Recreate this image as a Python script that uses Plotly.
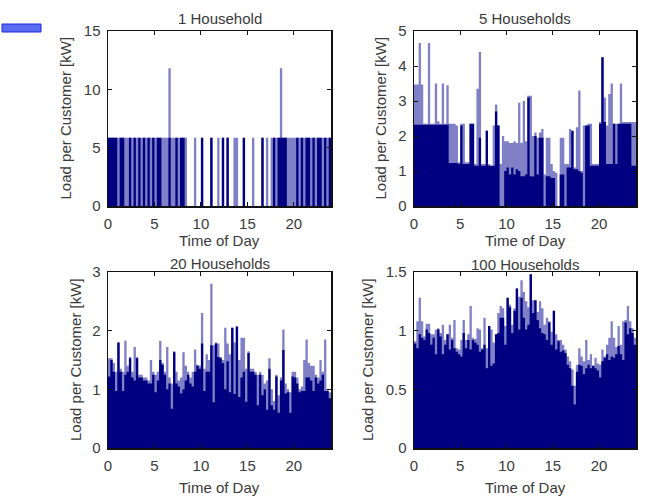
import plotly.graph_objects as go

W, H = 645, 499

# time axis: 15-minute bins over a day (97 edges)
time_of_day = [i * 0.25 for i in range(97)]

panel_titles = ["1 Household", "5 Households", "20 Households", "100 Households"]
x_ticks = [0, 5, 10, 15, 20]
y_ticks = [[0, 5, 10, 15], [0, 1, 2, 3, 4, 5], [0, 1, 2, 3], [0, 0.5, 1, 1.5]]
y_tick_text = [["0", "5", "10", "15"], ["0", "1", "2", "3", "4", "5"],
               ["0", "1", "2", "3"], ["0", "0.5", "1", "1.5"]]
y_max = [15, 5, 3, 1.5]

# 1 household: load sustained over the whole bin (dark) and peak within bin (light)
base_1 = [5.85, 5.85, 5.85, 5.85, 0, 5.85, 5.85, 0, 0, 5.85, 0, 5.85,
          0, 5.85, 0, 5.85, 0, 5.85, 0, 5.85, 0, 5.85, 5.85, 0,
          0, 0, 5.85, 0, 0, 5.85, 0, 5.85, 5.85, 0, 0, 0,
          0, 0, 0, 0, 5.85, 0, 0, 0, 5.85, 0, 0, 0,
          0, 5.85, 0, 5.85, 0, 0, 0, 0, 0, 0, 5.85, 0,
          0, 0, 0, 0, 0, 0, 5.85, 0, 0, 0, 0, 5.85,
          0, 5.85, 5.85, 5.85, 5.85, 0, 0, 0, 0, 5.85, 0, 5.85,
          0, 5.85, 5.85, 0, 5.85, 0, 5.85, 5.85, 0, 5.85, 0, 5.85]
peak_1 = [5.85, 5.85, 5.85, 5.85, 5.85, 5.85, 5.85, 5.85, 5.85, 5.85, 5.85, 5.85,
          5.85, 5.85, 5.85, 5.85, 5.85, 5.85, 5.85, 5.85, 5.85, 5.85, 5.85, 5.85,
          5.85, 5.85, 11.8, 5.85, 5.85, 5.85, 5.85, 5.85, 5.85, 5.85, 0, 0,
          0, 5.85, 0, 0, 5.85, 0, 0, 0, 5.85, 0, 0, 5.85,
          0, 5.85, 0, 5.85, 0, 0, 5.85, 5.85, 0, 0, 5.85, 0,
          0, 0, 5.85, 0, 0, 0, 5.85, 0, 5.85, 0, 5.85, 5.85,
          5.85, 5.85, 11.8, 5.85, 5.85, 5.85, 5.85, 5.85, 5.85, 5.85, 5.85, 5.85,
          5.85, 5.85, 5.85, 5.85, 5.85, 5.85, 5.85, 5.85, 5.85, 5.85, 5.85, 5.85]

# 5 households
base_5 = [2.32, 2.32, 2.32, 2.32, 2.32, 2.32, 2.32, 2.32, 2.32, 2.32, 2.32, 2.32,
          2.32, 2.32, 2.32, 1.23, 1.23, 1.23, 1.23, 1.2, 2.3, 1.2, 1.2, 1.2,
          2.35, 2.35, 1.15, 1.15, 1.95, 1.15, 1.15, 2.15, 1.15, 1.15, 1.15, 2.7,
          2.3, 0, 0, 1.0, 1.1, 0.9, 1.1, 0.9, 1.05, 1.0, 0.85, 0.85,
          0.9, 3.1, 0.85, 0.84, 2.0, 0.9, 1.95, 1.95, 0, 0.85, 0.85, 0.8,
          0.8, 0, 0, 0.9, 0.9, 0, 1.1, 1.1, 2.15, 1.05, 1.05, 1.0,
          0.95, 0, 2.3, 2.3, 1.15, 1.15, 1.15, 1.15, 2.35, 4.25, 2.4, 1.2,
          1.2, 1.2, 2.35, 1.2, 2.35, 2.35, 2.35, 2.35, 2.35, 2.35, 1.15, 1.15]
peak_5 = [3.47, 3.47, 4.66, 3.47, 2.35, 2.35, 4.66, 2.35, 2.35, 3.5, 2.42, 2.35,
          3.5, 2.35, 3.45, 2.35, 2.35, 2.35, 2.3, 1.25, 2.35, 2.35, 1.25, 1.25,
          2.35, 2.35, 1.2, 3.35, 4.4, 1.2, 1.2, 2.15, 1.2, 1.15, 2.3, 2.9,
          2.3, 1.2, 2.0, 1.85, 1.85, 1.8, 1.8, 1.85, 1.8, 2.95, 1.8, 3.0,
          1.85, 3.15, 3.15, 2.0, 2.1, 1.95, 2.1, 2.2, 0.9, 1.95, 1.95, 1.2,
          1.0, 0.95, 0, 1.95, 1.95, 1.2, 1.2, 2.2, 2.15, 1.1, 2.25, 3.3,
          1.0, 2.3, 2.3, 2.35, 2.35, 1.2, 1.2, 1.2, 2.4, 4.25, 3.1, 2.3,
          3.2, 3.5, 2.35, 2.35, 2.35, 3.5, 2.4, 2.4, 2.4, 2.4, 2.4, 2.4]

# 20 households
base_20 = [1.22, 1.5, 1.3, 0.97, 1.8, 1.3, 0.97, 1.25, 1.3, 1.53, 1.2, 1.15,
           1.53, 1.2, 1.2, 1.15, 1.15, 1.1, 1.1, 1.25, 0.95, 1.15, 1.5, 1.42,
           1.25, 1.0, 1.1, 0.67, 1.63, 1.1, 1.05, 0.93, 1.0, 1.15, 1.25, 1.1,
           1.05, 1.3, 1.4, 1.35, 1.78, 0.97, 1.3, 1.3, 1.75, 0.78, 1.78, 1.55,
           1.53, 1.45, 1.0, 1.48, 0.95, 2.05, 0.92, 2.07, 0.87, 1.2, 1.3, 0.79,
           1.62, 1.3, 1.3, 1.25, 0.73, 1.25, 0.9, 1.0, 0.65, 1.35, 0.73, 0.65,
           1.22, 0.6, 1.15, 1.67, 0.93, 0.95, 0.6, 1.22, 1.2, 1.1, 0.95, 0.97,
           0.97, 1.2, 1.2, 1.15, 0.97, 1.2, 1.1, 1.15, 1.25, 0.97, 0.97, 0.85]
peak_20 = [1.53, 1.53, 1.45, 1.3, 1.8, 1.35, 1.3, 1.83, 1.4, 1.55, 1.3, 1.72,
           1.55, 1.25, 1.25, 1.2, 1.2, 1.15, 1.5, 1.3, 1.25, 1.3, 1.83, 1.45,
           1.3, 1.72, 1.2, 1.1, 1.65, 1.3, 1.15, 1.2, 1.63, 1.4, 1.3, 1.2,
           1.3, 1.68, 1.42, 1.4, 2.3, 1.35, 1.6, 1.5, 2.8, 1.75, 1.8, 1.78,
           1.55, 1.5, 2.05, 1.78, 1.6, 2.05, 1.8, 2.07, 1.5, 1.88, 1.88, 1.35,
           1.65, 1.35, 1.35, 1.3, 1.25, 1.3, 1.25, 1.1, 1.15, 1.53, 1.0, 0.8,
           1.25, 0.9, 1.2, 2.02, 1.1, 1.0, 0.95, 1.3, 1.3, 1.2, 1.0, 1.05,
           1.5, 1.85, 1.45, 1.4, 1.4, 1.25, 1.2, 1.5, 1.3, 1.85, 1.0, 0.95]

# 100 households
base_100 = [0.89, 0.85, 0.97, 0.94, 0.92, 1.01, 0.98, 0.88, 0.94, 0.80, 1.01, 0.95,
            0.80, 0.88, 0.97, 0.84, 0.92, 0.85, 0.82, 0.80, 0.78, 0.98, 0.85, 0.92,
            0.84, 0.92, 0.90, 0.88, 0.82, 0.84, 0.88, 0.68, 1.04, 0.70, 0.72, 0.97,
            0.98, 1.11, 1.11, 0.88, 1.28, 1.20, 0.98, 1.17, 1.36, 1.01, 1.28, 1.11,
            1.01, 1.05, 1.48, 1.15, 1.26, 1.09, 1.02, 0.98, 0.97, 0.92, 1.07, 0.88,
            1.17, 0.84, 0.91, 0.82, 0.83, 0.81, 0.71, 0.68, 0.53, 0.37, 0.65, 0.71,
            0.70, 0.63, 0.68, 0.71, 0.68, 0.70, 0.68, 0.66, 0.60, 0.74, 0.77, 0.80,
            0.75, 0.78, 0.77, 0.80, 0.87, 0.80, 0.75, 1.07, 0.97, 1.02, 0.98, 0.88]
peak_100 = [0.91, 1.08, 1.28, 1.08, 0.95, 1.06, 1.06, 0.97, 0.97, 1.01, 1.02, 0.98,
            1.05, 0.92, 0.97, 1.05, 0.94, 1.09, 0.85, 0.84, 0.92, 1.09, 0.92, 0.97,
            1.21, 0.94, 0.93, 1.02, 1.01, 0.85, 1.11, 0.85, 1.04, 1.01, 0.90, 0.97,
            1.15, 1.21, 1.19, 1.04, 1.28, 1.22, 1.05, 1.19, 1.36, 1.29, 1.43, 1.33,
            1.25, 1.20, 1.48, 1.26, 1.26, 1.16, 1.25, 1.19, 1.05, 1.11, 1.08, 0.99,
            1.17, 0.97, 0.92, 0.92, 0.88, 0.84, 0.78, 0.74, 0.67, 0.53, 0.71, 0.85,
            0.78, 0.74, 0.92, 0.75, 0.80, 0.70, 0.77, 0.72, 0.71, 0.84, 0.78, 0.88,
            0.94, 1.08, 0.94, 0.86, 1.04, 0.88, 1.08, 1.09, 1.21, 1.08, 1.02, 0.94]

panels = [(base_1, peak_1), (base_5, peak_5), (base_20, peak_20), (base_100, peak_100)]

# layout geometry (pixels)
px_x = [(108, 331), (414, 636), (108, 331), (414, 636)]
px_y = [(31, 206), (31, 206), (272, 448), (272, 448)]
title_y = [18, 18, 263, 264]
xlabel_y = [241, 241, 487, 487]
ylabel_x = [65, 380, 75, 367]

DARK = "#000080"
LIGHT = "#8080c6"
TXT = "#3a3a3a"
FONT = "Liberation Sans, Arial, sans-serif"

fig = go.Figure()
layout = dict(template="none", width=W, height=H,
              margin=dict(l=0, r=0, t=0, b=0, pad=0, autoexpand=False),
              paper_bgcolor="white", plot_bgcolor="white", showlegend=False)
annotations = []

for k, (base, peak) in enumerate(panels):
    n = k + 1
    xa = "x" if n == 1 else f"x{n}"
    ya = "y" if n == 1 else f"y{n}"
    for vals, col in ((peak, LIGHT), (base, DARK)):
        fig.add_trace(go.Scatter(
            x=time_of_day, y=list(vals) + [vals[-1]], mode="lines",
            line=dict(shape="hv", width=0, color=col),
            fill="tozeroy", fillcolor=col, xaxis=xa, yaxis=ya,
            hoverinfo="skip"))
    x0, x1 = px_x[k]
    y0, y1 = px_y[k]
    common = dict(showline=True, linecolor="#111", linewidth=1.5, mirror="ticks",
                  ticks="inside", ticklen=4, tickcolor="#111", tickwidth=1,
                  showgrid=False, zeroline=False, automargin=False,
                  tickfont=dict(family=FONT, size=15, color=TXT))
    layout["xaxis" if n == 1 else f"xaxis{n}"] = dict(
        common, domain=[x0 / W, x1 / W], range=[0, 24], tickvals=x_ticks,
        anchor=ya, ticklabelstandoff=3)
    layout["yaxis" if n == 1 else f"yaxis{n}"] = dict(
        common, domain=[1 - y1 / H, 1 - y0 / H], range=[0, y_max[k]],
        tickvals=y_ticks[k], ticktext=y_tick_text[k], anchor=xa,
        ticklabelstandoff=3)
    cx = (x0 + x1) / 2 / W
    annotations.append(dict(text=panel_titles[k], x=cx, y=1 - title_y[k] / H,
                            xref="paper", yref="paper", showarrow=False,
                            xanchor="center", yanchor="middle",
                            font=dict(family=FONT, size=15, color=TXT)))
    annotations.append(dict(text="Time of Day", x=cx, y=1 - xlabel_y[k] / H,
                            xref="paper", yref="paper", showarrow=False,
                            xanchor="center", yanchor="middle",
                            font=dict(family=FONT, size=15, color=TXT)))
    annotations.append(dict(text="Load per Customer [kW]", x=ylabel_x[k] / W,
                            y=1 - (y0 + y1) / 2 / H, textangle=-90,
                            xref="paper", yref="paper", showarrow=False,
                            xanchor="center", yanchor="middle",
                            font=dict(family=FONT, size=15, color=TXT)))

layout["annotations"] = annotations
layout["shapes"] = [dict(type="rect", xref="paper", yref="paper",
                         x0=2 / W, x1=41 / W, y0=1 - 32 / H, y1=1 - 24 / H,
                         fillcolor="#5a6cf0", line=dict(color="#1a2ae0", width=1))]
fig.update_layout(**layout)
fig.write_html("out.html",
               config={"displayModeBar": False, "staticPlot": True},
               post_script="document.body.style.margin='0px';"
                           "document.body.style.overflow='hidden';")
